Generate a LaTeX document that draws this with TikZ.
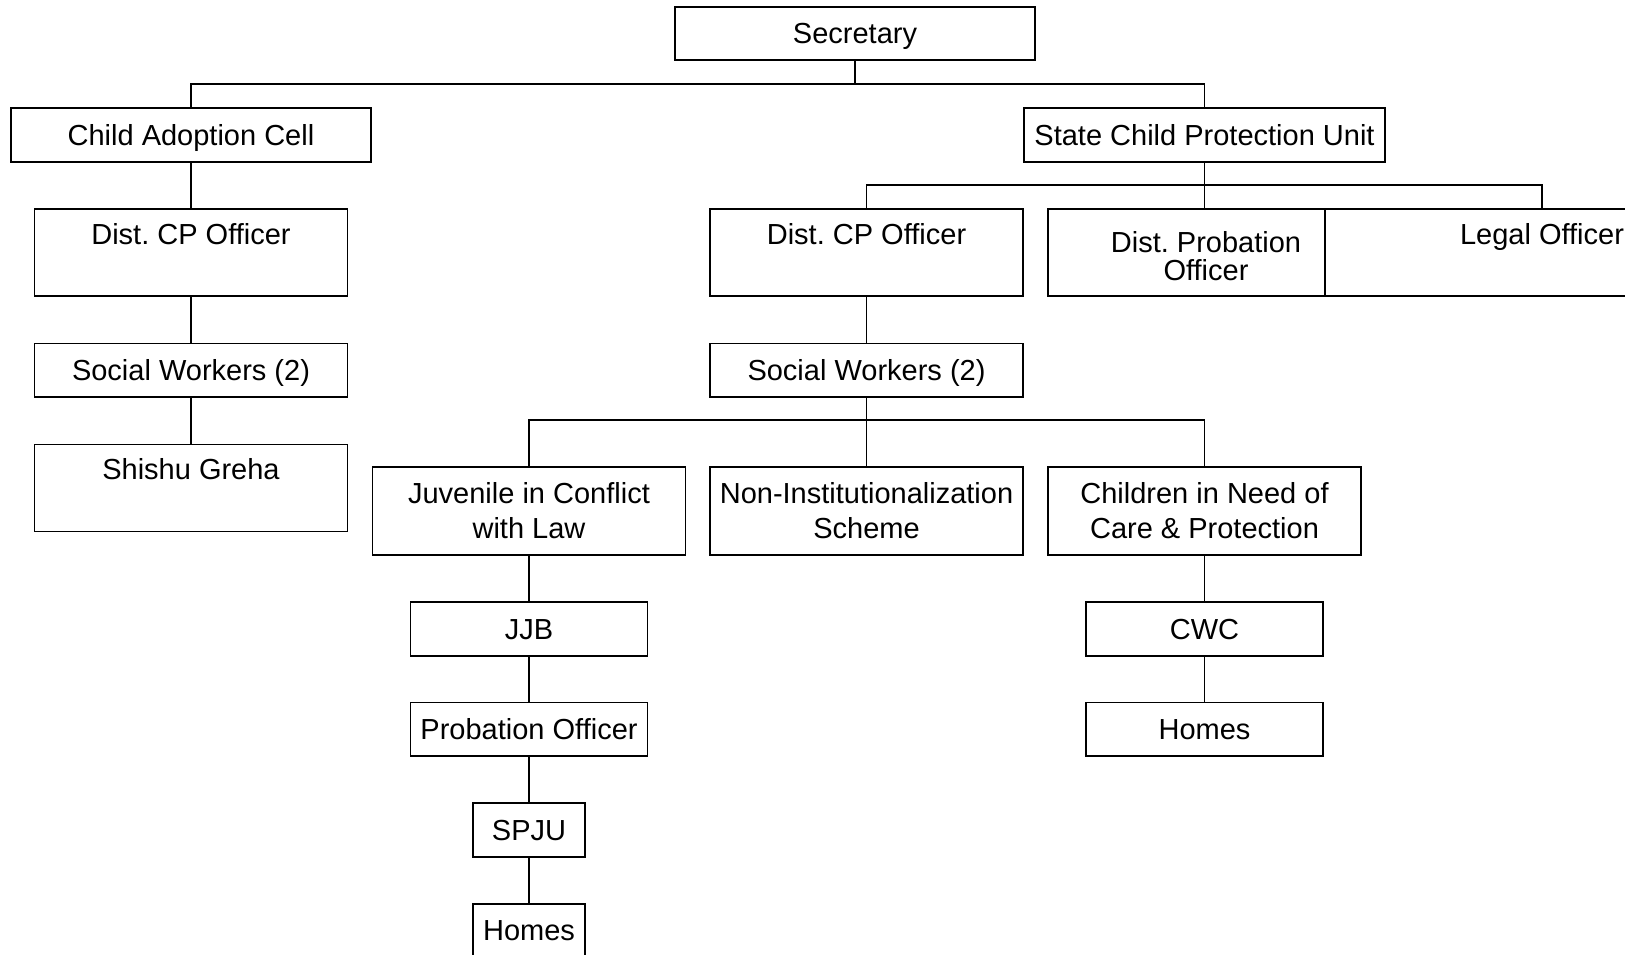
\documentclass[tikz,border=0pt]{standalone}
\usepackage{fontspec}
\setmainfont{Liberation Sans}
\frenchspacing
\newcommand\nodefont{\fontsize{29}{35}\selectfont}
\newcommand\dpofont{\fontsize{29}{27.5}\selectfont}
\tikzset{
  box/.style={draw, line width=1.7pt, rectangle, inner sep=0pt, font=\nodefont, fill=white},
  one/.style={box, text height=20.8pt, text depth=0pt, minimum height=53.4pt},
  tall/.style={box, text height=35.4pt, text depth=51.6pt, minimum height=87pt},
  multi/.style={box, align=center, minimum height=87.5pt},
  link/.style={line width=1.7pt},
}
\begin{document}
\begin{tikzpicture}[x=1pt,y=-1pt]
\path[fill=white, use as bounding box] (0,0) rectangle (1625,955);
\clip (0,0) rectangle (1625,955);
% nodes
\node[one, minimum width=360pt] (sec) at (855,33.5) {Secretary};
\node[one, minimum width=360pt] (cac) at (191,135) {Child Adoption Cell};
\node[one, minimum width=361pt] (scpu) at (1204.5,135) {State Child Protection Unit};
\node[tall, minimum width=313pt] (dcpoL) at (191,252.5) {Dist. CP Officer};
\node[one, minimum width=313pt] (swL) at (191,370.3) {Social Workers (2)};
\node[tall, minimum width=313pt] (sg) at (191,488) {Shishu Greha};
\node[tall, minimum width=313pt] (dcpoR) at (866.5,252.5) {Dist. CP Officer};
\node[box, minimum width=313pt, minimum height=87pt] (dpo) at (1204.5,252.5) {};
\node[font=\dpofont, align=center, inner sep=0pt] (dpot) at (1206,256) {Dist. Probation\\Officer};
\node[tall, minimum width=434pt] (legal) at (1542,252.5) {Legal Officer};
\node[one, minimum width=313pt] (swR) at (866.5,370.3) {Social Workers (2)};
\node[multi, minimum width=313pt] (jcl) at (529,511) {Juvenile in Conflict\\with Law};
\node[multi, minimum width=313pt] (nis) at (866.5,511) {Non-Institutionalization\\Scheme};
\node[multi, minimum width=313pt] (cncp) at (1204.5,511) {Children in Need of\\Care \& Protection};
\node[one, minimum width=237pt] (jjb) at (529,629) {JJB};
\node[one, minimum width=237pt] (po) at (529,729.3) {Probation Officer};
\node[one, minimum width=112pt] (spju) at (529,830) {SPJU};
\node[one, minimum width=112pt] (homesL) at (529,930.5) {Homes};
\node[one, minimum width=237pt] (cwc) at (1204.5,629) {CWC};
\node[one, minimum width=237pt] (homesR) at (1204.5,729.3) {Homes};
% bus coordinates
\coordinate (b1) at (855,84);
\coordinate (b2) at (1204.5,185);
\coordinate (b3) at (866.5,420);
% connectors
\draw[link] (sec.south) -- (b1);
\draw[link] (cac.north) |- (b1) -| (scpu.north);
\draw[link] (cac.south) -- (dcpoL.north);
\draw[link] (dcpoL.south) -- (swL.north);
\draw[link] (swL.south) -- (sg.north);
\draw[link] (scpu.south) -- (dpo.north);
\draw[link] (dcpoR.north) |- (b2) -| (legal.north);
\draw[link] (dcpoR.south) -- (swR.north);
\draw[link] (swR.south) -- (nis.north);
\draw[link] (jcl.north) |- (b3) -| (cncp.north);
\draw[link] (jcl.south) -- (jjb.north);
\draw[link] (jjb.south) -- (po.north);
\draw[link] (po.south) -- (spju.north);
\draw[link] (spju.south) -- (homesL.north);
\draw[link] (cncp.south) -- (cwc.north);
\draw[link] (cwc.south) -- (homesR.north);
\end{tikzpicture}
\end{document}
